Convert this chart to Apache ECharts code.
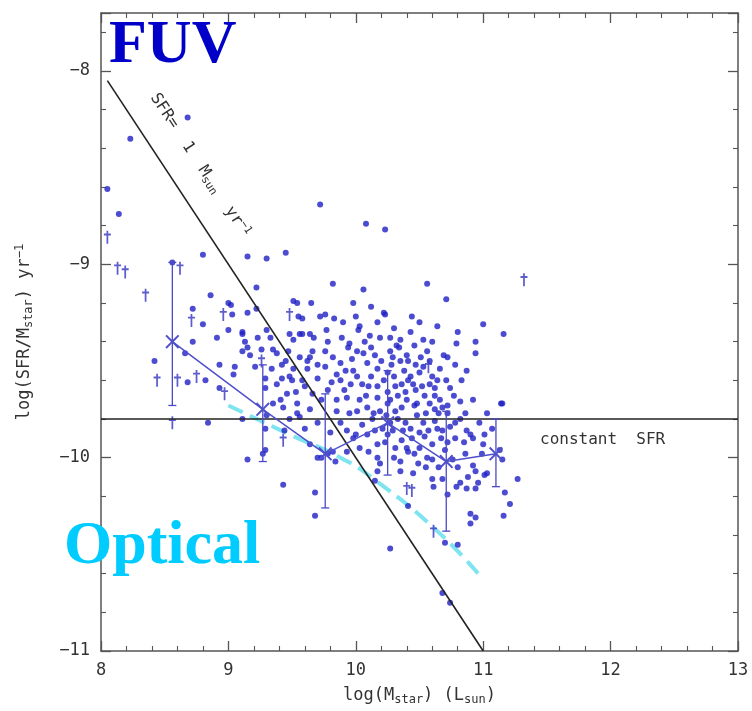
<!DOCTYPE html>
<html>
<head>
<meta charset="utf-8">
<script src="https://cdn.jsdelivr.net/npm/echarts@6/dist/echarts.min.js"></script>
<style>
  html, body { margin: 0; padding: 0; background: #fff; }
  #chart { width: 752px; height: 711px; }
</style>
</head>
<body>
<div id="chart"></div>
<script>
// galaxies (log M*, log SFR/M*)
var dots = [
    [8.68, -8.24], [8.23, -8.35], [8.05, -8.61], [8.14, -8.74], [8.80, -8.95], [9.15, -8.96], [9.30, -8.97],
    [9.45, -8.94], [9.72, -8.69], [10.08, -8.79], [10.23, -8.82], [9.82, -9.10], [10.06, -9.13], [10.56, -9.10],
    [10.71, -9.18], [9.22, -9.12], [8.86, -9.16], [8.72, -9.23], [9.00, -9.20], [9.02, -9.21], [9.15, -9.25],
    [9.51, -9.19], [9.54, -9.20], [9.65, -9.20], [9.55, -9.27], [9.22, -9.23], [9.03, -9.26], [8.80, -9.31],
    [9.56, -9.36], [9.64, -9.36], [9.00, -9.34], [9.11, -9.35], [8.91, -9.38], [9.30, -9.34], [10.22, -9.25],
    [10.44, -9.27], [10.17, -9.30], [10.64, -9.32], [11.00, -9.31], [10.80, -9.35], [11.16, -9.36], [10.53, -9.39],
    [10.79, -9.41], [10.94, -9.40], [10.94, -9.46], [10.69, -9.47], [10.72, -9.48], [10.78, -9.52], [10.51, -9.48],
    [10.40, -9.47], [10.32, -9.42], [10.34, -9.43], [10.66, -9.54], [10.71, -9.60], [10.62, -9.64], [10.92, -9.70],
    [10.82, -9.71], [11.14, -9.72], [10.48, -9.72], [10.23, -9.26],
    [9.58, -9.28], [9.72, -9.27], [9.76, -9.26], [9.83, -9.28], [10.03, -9.32], [10.02, -9.34], [9.11, -9.36],
    [9.48, -9.36], [9.58, -9.36], [9.77, -9.34], [9.89, -9.38], [10.11, -9.37], [10.19, -9.38], [9.13, -9.40],
    [9.23, -9.38], [9.33, -9.38], [9.51, -9.39], [9.67, -9.38], [9.78, -9.40], [9.95, -9.41], [9.94, -9.43],
    [10.07, -9.40], [9.15, -9.43], [9.35, -9.44], [9.47, -9.45], [9.66, -9.45], [9.64, -9.48], [9.76, -9.45],
    [10.06, -9.46], [10.15, -9.47], [9.17, -9.47], [9.42, -9.52], [9.62, -9.50], [9.82, -9.48], [9.88, -9.51],
    [9.97, -9.49], [10.09, -9.51], [9.21, -9.53], [9.34, -9.54], [9.51, -9.54], [9.62, -9.54], [9.76, -9.53],
    [9.98, -9.55], [10.01, -9.58], [10.17, -9.54], [9.29, -9.59], [9.42, -9.59], [9.48, -9.58], [9.50, -9.60],
    [9.58, -9.60], [9.70, -9.59], [9.81, -9.61], [9.88, -9.60], [10.10, -9.63], [10.17, -9.63], [9.29, -9.64],
    [9.46, -9.67], [9.66, -9.67], [9.78, -9.65], [9.93, -9.69], [10.03, -9.70], [10.17, -9.69], [9.41, -9.70],
    [9.54, -9.72],
    [10.27, -9.45], [10.35, -9.50], [10.25, -9.56], [10.31, -9.63], [10.43, -9.58], [10.50, -9.56], [10.39, -9.66],
    [10.54, -9.68], [10.27, -9.70], [10.58, -9.50], [10.46, -9.42], [10.35, -9.39], [10.28, -9.52], [10.38, -9.55],
    [10.45, -9.62], [10.52, -9.63], [10.30, -9.58], [10.22, -9.60], [10.60, -9.58], [10.40, -9.70], [10.33, -9.68],
    [10.47, -9.52], [10.56, -9.45], [10.25, -9.66], [10.20, -9.50], [10.62, -9.68], [10.66, -9.70],
    [9.35, -9.72], [9.43, -9.74], [9.30, -9.78], [9.54, -9.77], [9.56, -9.79], [9.64, -9.75], [9.85, -9.76],
    [9.95, -9.77], [10.01, -9.76], [10.09, -9.74], [10.14, -9.77], [10.19, -9.76], [9.70, -9.82], [9.11, -9.80],
    [9.29, -9.85], [9.44, -9.86], [9.93, -9.86], [9.98, -9.90], [10.09, -9.88], [10.15, -9.86], [9.64, -9.93],
    [10.03, -9.95], [10.17, -9.93], [9.27, -9.98], [9.29, -9.96], [9.78, -9.98], [9.73, -10.00], [9.82, -9.97],
    [9.84, -10.02], [9.70, -10.00], [9.93, -9.97], [9.15, -10.01], [10.17, -10.00], [10.19, -10.03], [10.15, -10.12],
    [9.43, -10.14], [9.68, -10.18], [9.68, -10.30], [10.17, -10.07],
    [10.25, -9.72], [10.31, -9.76], [10.36, -9.74], [10.46, -9.73], [10.58, -9.72], [10.62, -9.75], [10.65, -9.77],
    [10.68, -9.74], [10.72, -9.73], [10.72, -9.77], [10.86, -9.77], [11.03, -9.77], [11.15, -9.72], [10.27, -9.82],
    [10.29, -9.86], [10.25, -9.88], [10.39, -9.82], [10.43, -9.85], [10.53, -9.82], [10.57, -9.86], [10.64, -9.85],
    [10.68, -9.86], [10.78, -9.82], [10.87, -9.86], [10.90, -9.88], [11.01, -9.88], [11.07, -9.85], [10.36, -9.91],
    [10.44, -9.90], [10.54, -9.89], [10.60, -9.93], [10.72, -9.92], [10.78, -9.90], [10.92, -9.90], [11.00, -9.93],
    [10.31, -9.95], [10.41, -9.97], [10.46, -9.98], [10.56, -10.00], [10.60, -10.01], [10.76, -10.01], [10.86, -9.98],
    [10.99, -9.98], [11.13, -9.96], [11.15, -10.01], [10.35, -10.02], [10.49, -10.03], [10.65, -10.05], [10.92, -10.04],
    [10.94, -10.07], [11.03, -10.08], [10.35, -10.07], [10.60, -10.11], [10.61, -10.15], [10.68, -10.11], [10.82, -10.13],
    [10.79, -10.15], [10.87, -10.16], [10.94, -10.16], [10.96, -10.13], [11.01, -10.09], [11.27, -10.11], [11.17, -10.18],
    [11.21, -10.24], [11.16, -10.30], [10.90, -10.29], [10.94, -10.31], [10.90, -10.34], [10.72, -10.19], [10.41, -10.25],
    [10.70, -10.44], [10.80, -10.45], [10.27, -10.47], [10.68, -10.70], [10.74, -10.75],
    [8.42, -9.50], [8.68, -9.61], [8.82, -9.60], [8.93, -9.52], [9.05, -9.53], [8.93, -9.64], [9.04, -9.57],
    [8.72, -9.40], [8.66, -9.46], [8.84, -9.82], [9.11, -9.45], [8.56, -8.99],
    [10.05, -9.62], [10.12, -9.58], [10.08, -9.68], [10.13, -9.80], [10.05, -9.83], [10.21, -9.85], [10.24, -9.78],
    [10.33, -9.80], [10.37, -9.86], [10.48, -9.78], [10.50, -9.87], [10.55, -9.77], [10.62, -9.81], [10.67, -9.90],
    [10.74, -9.84], [10.82, -9.80], [10.85, -9.92], [10.97, -9.82], [10.47, -9.65], [10.58, -9.62], [10.41, -9.60],
    [10.36, -9.62], [10.29, -9.48], [10.41, -9.50], [10.53, -9.53], [10.64, -9.60], [10.74, -9.64], [10.83, -9.60],
    [10.87, -9.55], [10.77, -9.68], [10.12, -9.43], [10.01, -9.45], [9.92, -9.55], [9.85, -9.57], [9.91, -9.65],
    [9.85, -9.70], [9.96, -9.62], [9.73, -9.70], [9.60, -9.63], [9.53, -9.66], [9.70, -9.52], [9.56, -9.48],
    [9.45, -9.50], [9.38, -9.46], [9.26, -9.44], [9.38, -9.62], [9.80, -9.87], [9.88, -9.82], [10.00, -9.88],
    [9.60, -9.85], [9.48, -9.80], [10.10, -9.97], [10.23, -9.92], [10.30, -10.00], [10.40, -9.95], [10.50, -9.95],
    [10.55, -10.05], [10.45, -10.08], [10.70, -9.96], [10.80, -10.05], [10.88, -10.10], [9.90, -9.30], [10.00, -9.27],
    [10.12, -9.22], [9.98, -9.20], [10.30, -9.33], [10.43, -9.35], [10.60, -9.40], [10.27, -9.38], [10.50, -9.30]
];

// upper limits (daggers)
var limits = [
    [8.05, -8.86], [8.13, -9.02], [8.19, -9.04], [8.35, -9.16], [8.62, -9.02], [8.71, -9.29], [8.96, -9.26],
    [9.48, -9.26], [9.26, -9.50], [8.44, -9.60], [8.75, -9.58], [8.60, -9.60], [8.97, -9.67], [8.56, -9.82],
    [9.43, -9.91], [10.57, -9.53], [11.32, -9.08], [10.40, -10.16], [10.44, -10.17], [10.61, -10.38]
];

// binned medians with scatter
var medX = [8.56, 9.27, 9.76, 10.25, 10.71, 11.10];
var medY = [-9.40, -9.75, -9.98, -9.82, -10.02, -9.98];
var errHi = [-8.99, -9.52, -9.67, -9.55, -9.76, -9.80];
var errLo = [-9.73, -10.02, -10.26, -10.09, -10.38, -10.15];

// optical relation (cyan dashed)
var cyanX = [9.00, 9.48, 9.88, 10.14, 10.64, 11.00];
var cyanY = [-9.73, -9.88, -10.00, -10.11, -10.38, -10.63];

// reference lines
var sfrLineX = [8.05, 11.0];
var sfrLineY = [-8.05, -11.0];
var constSfr = -9.8;
var xTicks = [8, 13];
var yTicks = [-11, -7.7];

var mono = '"DejaVu Sans Mono", monospace';
var txt = '#333';

function axisBase(pos, showLabel) {
    return {
        type: 'value',
        position: pos,
        axisLine: {show: true, onZero: false, lineStyle: {color: '#555', width: 1.5}},
        axisTick: {show: true, inside: true, length: 10, lineStyle: {color: '#555', width: 1.3}},
        minorTick: {show: true, splitNumber: 5, length: 5, lineStyle: {color: '#555', width: 1.1}},
        splitLine: {show: false},
        axisLabel: {show: showLabel, color: txt, fontFamily: mono, fontSize: 17, margin: 11, showMaxLabel: false,
            formatter: function (v) { return v < 0 ? '\u2212' + Math.abs(v) : String(v); }}
    };
}

var xBottom = axisBase('bottom', true);
xBottom.min = xTicks[0]; xBottom.max = xTicks[1]; xBottom.interval = 1;
xBottom.axisLabel.showMaxLabel = true;
xBottom.name = '{n|log(M}{s|star}{n|) (L}{s|sun}{n|)}';
xBottom.nameLocation = 'middle';
xBottom.nameGap = 34;
xBottom.nameTextStyle = {color: txt, fontFamily: mono, rich: {
    n: {fontSize: 17, fontFamily: mono, color: txt},
    s: {fontSize: 12, fontFamily: mono, color: txt, padding: [9, 0, 0, 0]}
}};
var xTop = axisBase('top', false);
xTop.min = xTicks[0]; xTop.max = xTicks[1]; xTop.interval = 1;

var yLeft = axisBase('left', true);
yLeft.min = yTicks[0]; yLeft.max = yTicks[1]; yLeft.interval = 1;
yLeft.name = '{n|log(SFR/M}{s|star}{n|) yr}{p|\u22121}';
yLeft.nameLocation = 'middle';
yLeft.nameGap = 66;
yLeft.nameTextStyle = {color: txt, fontFamily: mono, rich: {
    n: {fontSize: 17, fontFamily: mono, color: txt},
    s: {fontSize: 12, fontFamily: mono, color: txt, padding: [9, 0, 0, 0]},
    p: {fontSize: 12, fontFamily: mono, color: txt, padding: [0, 0, 9, 0]}
}};
var yRight = axisBase('right', false);
yRight.min = yTicks[0]; yRight.max = yTicks[1]; yRight.interval = 1;

var dagger = 'path://M4,0 L6,0 L6,3 L9,3 L9,5 L6,5 L6,14 L4,14 L4,5 L1,5 L1,3 L4,3 Z';
var cross = 'path://M0,1 L1,0 L5,4 L9,0 L10,1 L6,5 L10,9 L9,10 L5,6 L1,10 L0,9 L4,5 Z';

function pairs(xs, ys) {
    return xs.map(function (x, i) { return [x, ys[i]]; });
}

var chart = echarts.init(document.getElementById('chart'));
chart.setOption({
    animation: false,
    backgroundColor: '#fff',
    grid: {left: 101, right: 14, top: 13, bottom: 60},
    xAxis: [xBottom, xTop],
    yAxis: [yLeft, yRight],
    series: [
        {
            type: 'line', data: pairs(cyanX, cyanY), symbol: 'none', smooth: true, z: 1,
            lineStyle: {color: '#7ee4f0', width: 4, type: [16, 8]}
        },
        {
            type: 'scatter', data: dots, symbol: 'circle', symbolSize: 6, z: 3,
            itemStyle: {color: '#1f1fc4'}
        },
        {
            type: 'scatter', data: limits, symbol: dagger, symbolSize: [7, 13], z: 3,
            itemStyle: {color: '#3434c2'}
        },
        {
            type: 'line', data: pairs(sfrLineX, sfrLineY), symbol: 'none', z: 4,
            lineStyle: {color: '#222', width: 1.6}
        },
        {
            type: 'line', data: [[xTicks[0], constSfr], [xTicks[1], constSfr]], symbol: 'none', z: 4,
            lineStyle: {color: '#222', width: 1.6}
        },
        {
            type: 'custom', z: 5,
            data: medX.map(function (x, i) { return [x, errHi[i], errLo[i]]; }),
            encode: {x: 0, y: [1, 2]},
            renderItem: function (params, api) {
                var top = api.coord([api.value(0), api.value(1)]);
                var bot = api.coord([api.value(0), api.value(2)]);
                var st = {stroke: '#4a4ac8', lineWidth: 1.3};
                return {
                    type: 'group', children: [
                        {type: 'line', shape: {x1: top[0], y1: top[1], x2: bot[0], y2: bot[1]}, style: st},
                        {type: 'line', shape: {x1: top[0] - 4, y1: top[1], x2: top[0] + 4, y2: top[1]}, style: st},
                        {type: 'line', shape: {x1: bot[0] - 4, y1: bot[1], x2: bot[0] + 4, y2: bot[1]}, style: st}
                    ]
                };
            }
        },
        {
            type: 'line', data: pairs(medX, medY), symbol: cross, symbolSize: 14, z: 6,
            lineStyle: {color: '#5050cc', width: 1.5},
            itemStyle: {color: '#5050cc'}
        }
    ],
    graphic: [
        {
            type: 'text', x: 109, y: 77, z: 10,
            style: {text: 'FUV', fill: '#0000c8', font: 'bold 62px "Liberation Serif", serif', textVerticalAlign: 'bottom'}
        },
        {
            type: 'text', x: 64, y: 516, z: 10,
            style: {text: 'Optical', fill: '#00ccff', font: 'bold 62px "Liberation Serif", serif', textVerticalAlign: 'alphabetic'}
        },
        {
            type: 'text', x: 200, y: 165, rotation: -0.988, z: 10,
            style: {
                text: '{n|SFR=  1  M}{s|sun}{n|  yr}{p|\u22121}',
                align: 'center', verticalAlign: 'middle',
                rich: {
                    n: {fontSize: 16, fontFamily: mono, fill: txt},
                    s: {fontSize: 11, fontFamily: mono, fill: txt, padding: [8, 0, 0, 0]},
                    p: {fontSize: 11, fontFamily: mono, fill: txt, padding: [0, 0, 8, 0]}
                }
            }
        },
        {
            type: 'text', x: 540, y: 440, z: 10,
            style: {text: 'constant  SFR', fill: txt, font: '16px ' + mono, textVerticalAlign: 'middle'}
        }
    ]
});
</script>
</body>
</html>
